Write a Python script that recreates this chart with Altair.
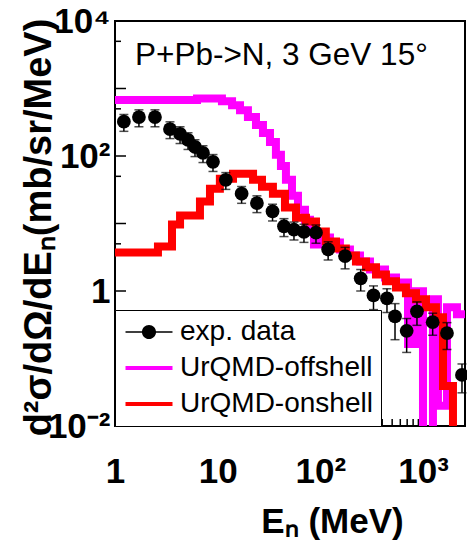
import altair as alt
import pandas as pd

# ---- measured neutron spectrum, P+Pb -> N at 3 GeV, 15 degrees ----
e_exp = [1.22, 1.71, 2.45, 3.43, 4.30, 5.14, 6.01, 7.19, 9.00, 12.0, 17.1, 24.1,
         34.2, 44.2, 55.3, 69.2, 90.6, 119, 174, 247, 329, 445, 533, 692, 872,
         1240, 1709, 2392]
xs_exp = [322, 377, 377, 251, 212, 173, 136, 111, 82, 44.4, 27.6, 20.1, 15.1,
          9.1, 8.1, 7.5, 7.3, 4.12, 3.28, 1.54, 0.86, 0.78, 0.42, 0.257, 0.50,
          0.345, 0.238, 0.057]
err_exp = [90, 106, 106, 70, 59, 48, 38, 31, 23, 12.4, 7.7, 5.6, 4.2, 2.7, 2.4,
           2.25, 2.2, 1.24, 1.15, 0.54, 0.33, 0.30, 0.23, 0.134, 0.19, 0.124,
           0.102, 0.026]

# ---- UrQMD histograms: bin edges (MeV) and bin contents ----
# empty bins carry 1e-3, below the axis floor, so they drop to the bottom
off_edges = [1.0, 6.29, 11.0, 13.8, 16.5, 19.7, 23.6, 27.6, 32.3, 36.9, 41.3,
             46.2, 52.9, 60.5, 70.8, 79.2, 86.6, 94.8, 104, 124, 155, 194, 243,
             304, 426, 545, 713, 834, 998, 1248, 1396, 1709, 2138, 2560]
off_vals = [673, 708, 650, 566, 478, 377, 288, 219, 161, 104, 71.4, 44.4, 25.8,
            16.0, 11.4, 8.1, 4.89, 5.79, 6.19, 5.23, 4.12, 3.36, 2.74, 2.09,
            1.59, 1.34, 0.164, 0.99, 0.001, 0.755, 0.0199, 0.575, 0.453]

on_edges = [1.0, 2.62, 3.59, 4.30, 6.72, 8.41, 10.5, 14.1, 22.1, 27.0, 34.5,
            45.2, 57.9, 72.4, 90.6, 113, 142, 177, 222, 278, 348, 435, 545, 681,
            853, 1067, 1335, 1563, 1955, 2560]
on_vals = [3.72, 4.56, 9.64, 13.1, 21.1, 32.7, 45.9, 54.5, 44.4, 35.0, 27.6,
           17.2, 12.2, 10.7, 7.6, 5.41, 4.27, 3.36, 2.74, 2.24, 1.76, 1.39,
           1.13, 0.925, 0.755, 0.575, 0.41, 0.039, 0.001]

series_names = ["exp. data", "UrQMD-offshell", "UrQMD-onshell"]
series_colors = ["#000000", "#ff00ff", "#ff0000"]
reaction = "P+Pb->N, 3 GeV 15\u00b0"

# axis tick positions
y_major = [0.01, 0.1, 1, 10, 100, 1000, 10000]
y_minor = [0.05, 0.5, 5, 50, 500, 5000]
x_major = [1, 10, 100, 1000]
x_minor = [2, 3, 4, 5, 6, 7, 8, 9, 20, 30, 40, 50, 60, 70, 80, 90,
           200, 300, 400, 500, 600, 700, 800, 900, 2000]

W, H = 350, 405
FONT = "Liberation Sans"
GLYPH_SIZE = 552  # legend glyph size (glyph paths span +-2 units)

pts = pd.DataFrame({"E": e_exp, "xs": xs_exp, "series": series_names[0]})
pts["lo"] = [v - e for v, e in zip(xs_exp, err_exp)]
pts["hi"] = [v + e for v, e in zip(xs_exp, err_exp)]


def hist_frame(edges, vals, name):
    return pd.DataFrame({"E": edges, "xs": list(vals) + [vals[-1]], "series": name})


off_df = hist_frame(off_edges, off_vals, series_names[1])
on_df = hist_frame(on_edges, on_vals, series_names[2])

xsc = alt.Scale(type="log", domain=[1, 2560], nice=False)
ysc = alt.Scale(type="log", domain=[0.01, 10000], nice=False)
color_scale = alt.Scale(domain=series_names, range=series_colors)

# legend glyphs: marker on a thin line for the data, thick bars for the histograms
DOT_LINE = ("M0.6,0A0.6,0.6,0,1,1,-0.6,0A0.6,0.6,0,1,1,0.6,0Z"
            "M-2,-0.06H2V0.06H-2Z")
BAR = "M-2,-0.17H2V0.17H-2Z"

legend = alt.Legend(
    title=None, orient="none", legendX=0, legendY=289,
    fillColor="white", strokeColor="black", padding=8,
    labelFont=FONT, labelFontSize=28, labelColor="black", labelLimit=400,
    symbolSize=GLYPH_SIZE, symbolStrokeWidth=0, symbolOffset=12, labelOffset=17,
    rowPadding=8, symbolOpacity=1,
)

x_axis = alt.Axis(
    values=x_major, grid=False, domain=False, ticks=False,
    labelExpr="datum.value == 1 ? '1' : datum.value == 10 ? '10' : datum.value == 100 ? '10\u00b2' : '10\u00b3'",
    labelFont=FONT, labelFontSize=35, labelFontWeight="bold", labelColor="black",
    labelPadding=28, labelBaseline="top", labelAlign="center",
    title="E\u2099 (MeV)", titleFont=FONT, titleFontSize=35, titleFontWeight="bold",
    titleColor="black", titleX=217, titleY=106, titleAlign="center",
    titleBaseline="alphabetic",
)
y_axis = alt.Axis(
    values=[0.01, 1, 100, 10000], grid=False, domain=False, ticks=False,
    labelExpr="datum.value == 1 ? '1' : datum.value == 100 ? '10\u00b2' : datum.value == 10000 ? '10\u2074' : '10\u207b\u00b2'",
    labelFont=FONT, labelFontSize=35, labelFontWeight="bold", labelColor="black",
    labelPadding=5, labelAlign="right", labelBaseline="middle",
    title="d\u00b2\u03c3/d\u03a9/dE\u2099(mb/sr/MeV)", titleFont=FONT, titleFontSize=38,
    titleFontWeight="bold", titleColor="black", titleAngle=270,
    titleX=-65, titleY=206, titleAlign="center", titleBaseline="alphabetic",
)


def X(field):
    return alt.X(field, scale=xsc, axis=x_axis)


def Y(field):
    return alt.Y(field, scale=ysc, axis=y_axis)


# inward axis ticks
ytick_major = alt.Chart(pd.DataFrame({"v": y_major})).mark_rule(color="black", strokeWidth=1.5).encode(
    y=Y("v:Q"), x=alt.value(0), x2=alt.value(11))
ytick_minor = alt.Chart(pd.DataFrame({"v": y_minor})).mark_rule(color="black", strokeWidth=1.5).encode(
    y=Y("v:Q"), x=alt.value(0), x2=alt.value(6))
xtick_major = alt.Chart(pd.DataFrame({"v": x_major})).mark_rule(color="black", strokeWidth=1.5).encode(
    x=X("v:Q"), y=alt.value(H), y2=alt.value(H - 12))
xtick_minor = alt.Chart(pd.DataFrame({"v": x_minor})).mark_rule(color="black", strokeWidth=1.5).encode(
    x=X("v:Q"), y=alt.value(H), y2=alt.value(H - 7))


def hist_layer(df, color):
    return alt.Chart(df).mark_line(
        interpolate="step-after", strokeWidth=8, clip=True, strokeJoin="miter",
        strokeCap="butt", color=color,
    ).encode(x=X("E:Q"), y=Y("xs:Q"))


off_line = hist_layer(off_df, series_colors[1])
on_line = hist_layer(on_df, series_colors[2])

bars = alt.Chart(pts).mark_rule(color="black", strokeWidth=1.5).encode(
    x=X("E:Q"), y=Y("lo:Q"), y2="hi:Q")
caps_lo = alt.Chart(pts).mark_tick(color="black", orient="horizontal", size=9, thickness=1.5).encode(
    x=X("E:Q"), y=Y("lo:Q"))
caps_hi = alt.Chart(pts).mark_tick(color="black", orient="horizontal", size=9, thickness=1.5).encode(
    x=X("E:Q"), y=Y("hi:Q"))

# data markers
points = alt.Chart(pts).mark_point(
    filled=True, opacity=1, size=190, shape="circle", color="black", strokeWidth=0
).encode(x=X("E:Q"), y=Y("xs:Q"))

# carrier of the series legend (its own marks are transparent)
legend_layer = alt.Chart(pts).mark_point(filled=True, opacity=0, size=GLYPH_SIZE, strokeWidth=0).encode(
    x=X("E:Q"),
    y=Y("xs:Q"),
    fill=alt.Fill("series:N", scale=color_scale, legend=legend),
    shape=alt.Shape("series:N", scale=alt.Scale(domain=series_names, range=[DOT_LINE, BAR, BAR]), legend=legend),
)

label = alt.Chart(pd.DataFrame({"t": [reaction]})).mark_text(
    align="left", baseline="alphabetic", font=FONT, fontSize=31.5, color="black"
).encode(text="t:N", x=alt.value(20), y=alt.value(44))

chart = alt.layer(
    ytick_major, ytick_minor, xtick_major, xtick_minor,
    off_line, on_line, bars, caps_lo, caps_hi, points, legend_layer, label,
).properties(
    width=W, height=H,
    padding={"left": 115, "top": 21, "right": 2, "bottom": 116},
    autosize=alt.AutoSizeParams(type="none"),
    background="white",
).configure_view(stroke="black", strokeWidth=2)

chart.save("out.html", embed_options={"renderer": "svg", "actions": False})
